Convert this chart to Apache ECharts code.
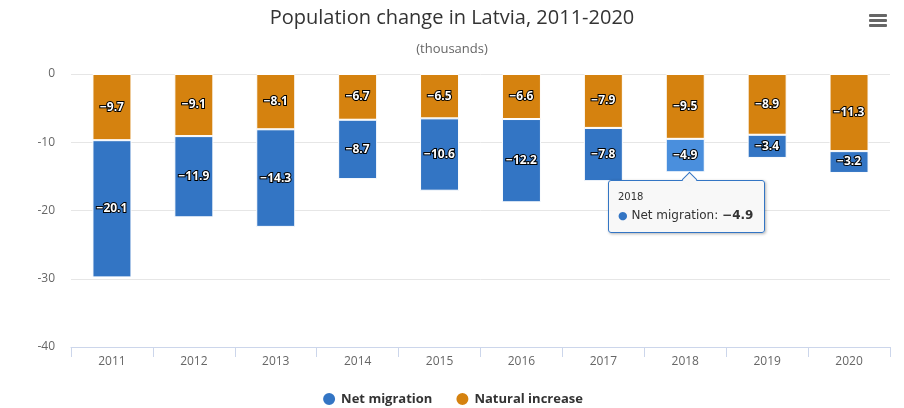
<!DOCTYPE html>
<html><head><meta charset="utf-8">
<script src="https://cdn.jsdelivr.net/npm/echarts@6/dist/echarts.min.js"></script>
<style>html,body{margin:0;padding:0;background:#fff}#c{width:904px;height:408px}</style>
</head><body><div id="c"></div>
<script>
const years = ['2011','2012','2013','2014','2015','2016','2017','2018','2019','2020'];
const netMigration = [-20.1,-11.9,-14.3,-8.7,-10.6,-12.2,-7.8,-4.9,-3.4,-3.2];
const naturalIncrease = [-9.7,-9.1,-8.1,-6.7,-6.5,-6.6,-7.9,-9.5,-8.9,-11.3];
const yTicks = {min:-40, max:0, interval:10};

const FONT = "'Open Sans','Noto Sans',sans-serif";
const BLUE = '#3375c4', ORANGE = '#d5820f';
const fmt = v => (v < 0 ? '\u2212' + Math.abs(v) : '' + v);
const labelCfg = {
  show: true, position: 'inside', color: '#fff', fontWeight: 'bold', fontSize: 12,
  fontFamily: FONT, textBorderColor: '#000', textBorderWidth: 2,
  formatter: p => fmt(p.value)
};

const chart = echarts.init(document.getElementById('c'));
chart.setOption({
  animation: false,
  title: {
    text: 'Population change in Latvia, 2011-2020',
    subtext: '(thousands)',
    left: 'center', top: 3, itemGap: 15,
    textStyle: {fontFamily: FONT, fontSize: 20, fontWeight: 'normal', color: '#333'},
    subtextStyle: {fontFamily: FONT, fontSize: 13, color: '#666'}
  },
  grid: {left: 71, right: 14, top: 74, bottom: 61},
  legend: {
    data: ['Net migration','Natural increase'], top: 386, left: 'center',
    icon: 'circle', itemWidth: 14, itemHeight: 14, itemGap: 22,
    textStyle: {fontFamily: FONT, fontSize: 13, fontWeight: 'bold', color: '#333'}
  },
  tooltip: {
    trigger: 'item', alwaysShowContent: true, triggerOn: 'none',
    position: [608, 180], padding: [7, 9],
    backgroundColor: 'rgba(247,247,247,0.9)', borderColor: BLUE, borderWidth: 1,
    extraCssText: 'border-radius:3px;box-shadow:1px 1px 3px rgba(0,0,0,0.3);overflow:visible;',
    formatter: p => '<div style="position:relative;font-family:DejaVu Sans,sans-serif;line-height:18px;padding-right:2px">'
      + '<div style="position:absolute;left:66px;top:-14px;width:10px;height:10px;background:#f7f7f7;border-left:1px solid ' + BLUE + ';border-top:1px solid ' + BLUE + ';transform:rotate(45deg)"></div>'
      + '<div style="font-size:10px;color:#333">' + p.name + '</div>'
      + '<div style="font-size:12px;color:#333"><span style="color:' + p.color + ';font-size:11px">\u25CF</span> '
      + p.seriesName + ': <b>' + fmt(p.value) + '</b></div></div>'
  },
  xAxis: {
    type: 'category', data: years, position: 'bottom',
    axisLine: {onZero: false, lineStyle: {color: '#ccd6eb'}},
    axisTick: {show: true, length: 10, lineStyle: {color: '#ccd6eb'}},
    axisLabel: {fontFamily: FONT, fontSize: 12, color: '#666', margin: 9}
  },
  yAxis: {
    type: 'value', min: yTicks.min, max: yTicks.max, interval: yTicks.interval,
    axisLabel: {fontFamily: FONT, fontSize: 12, color: '#666', margin: 16},
    splitLine: {lineStyle: {color: '#e6e6e6'}}
  },
  series: [
    {name: 'Natural increase', type: 'bar', stack: 's', data: naturalIncrease, barWidth: 39,
     itemStyle: {color: ORANGE, borderColor: '#fff', borderWidth: 1}, label: labelCfg,
     emphasis: {disabled: true}},
    {name: 'Net migration', type: 'bar', stack: 's', data: netMigration, barWidth: 39,
     itemStyle: {color: BLUE, borderColor: '#fff', borderWidth: 1}, label: labelCfg,
     emphasis: {itemStyle: {color: '#4a8fdd'}, focus: 'none'}}
  ],
  graphic: [
    {type: 'rect', right: 17, top: 14, shape: {width: 18, height: 3, r: 1}, style: {fill: '#666'}},
    {type: 'rect', right: 17, top: 19, shape: {width: 18, height: 3, r: 1}, style: {fill: '#666'}},
    {type: 'rect', right: 17, top: 24, shape: {width: 18, height: 3, r: 1}, style: {fill: '#666'}}
  ]
});
chart.dispatchAction({type: 'highlight', seriesIndex: 1, dataIndex: 7});
chart.dispatchAction({type: 'showTip', seriesIndex: 1, dataIndex: 7});
</script></body></html>
